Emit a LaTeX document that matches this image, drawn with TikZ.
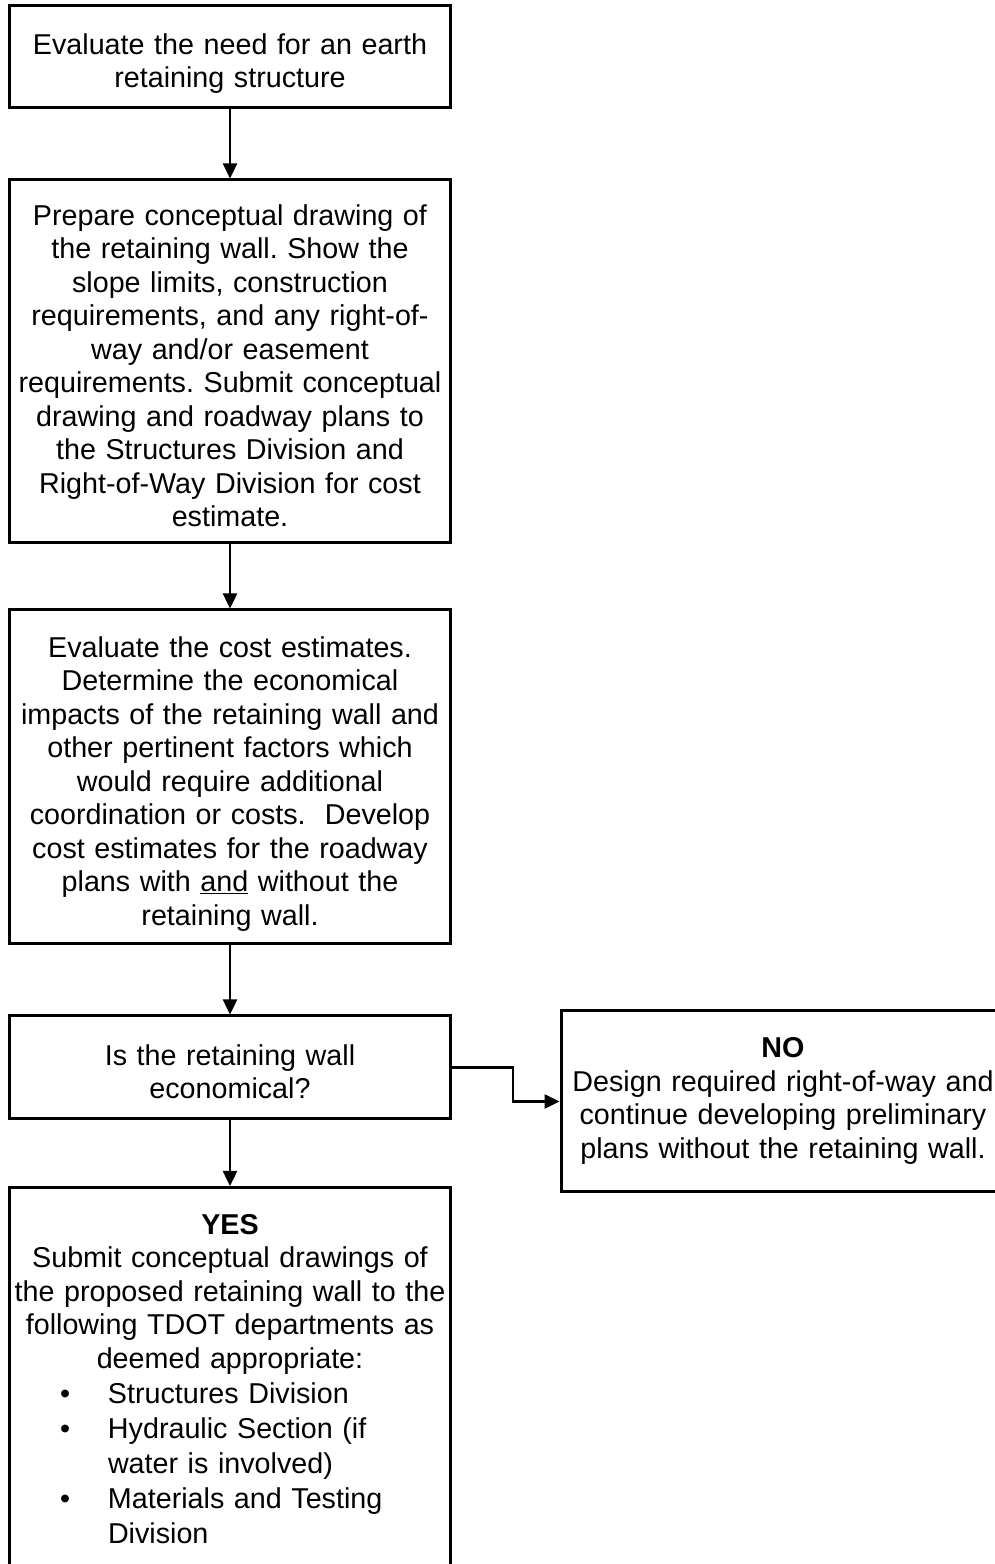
\documentclass[tikz,border=0pt]{standalone}
\usepackage{fontspec}
\setmainfont{Liberation Sans}
\usetikzlibrary{arrows.meta}
\newcommand{\bulitem}[1]{\makebox[444bp][l]{\hspace{52bp}\makebox[48bp][l]{\textbullet}#1}}
\newcommand{\bulcont}[1]{\makebox[444bp][l]{\hspace{100bp}#1}}
\newcommand{\deeprule}[1]{\rule[-#1]{0pt}{0pt}}
\begin{document}
\begin{tikzpicture}[>={Triangle[length=15bp,width=14bp]},line join=miter,
  flowbox/.style={draw,line width=3bp,minimum width=441bp,inner xsep=-1.5bp,inner ysep=0bp,
    text width=444bp,align=center,font=\fontsize{28.7bp}{33.5bp}\selectfont\frenchspacing,
    execute at begin node={\rule{0pt}{#1}},execute at end node={\deeprule{7bp}}},
  flowbox/.default=36bp,
  link/.style={black,line width=2.5bp,->}]
\path[use as bounding box,fill=white] (0bp,0bp) rectangle (995bp,1564bp);
%%
\node (node_0) at (230bp,1507.5bp) [flowbox,minimum height=102bp] {Evaluate the need for an earth\\retaining structure};
  \node (node_1) at (230bp,1202.5bp) [flowbox,minimum height=363bp] {Prepare conceptual drawing of\\the retaining wall. Show the\\slope limits, construction\\requirements, and any right-of-\\way and/or easement\\requirements. Submit conceptual\\drawing and roadway plans to\\the Structures Division and\\Right-of-Way Division for cost\\estimate.};
  \node (node_2) at (230bp,787bp) [flowbox,minimum height=334bp] {Evaluate the cost estimates.\\Determine the economical\\impacts of the retaining wall and\\other pertinent factors which\\would require additional\\coordination or costs.\ \ Develop\\cost estimates for the roadway\\plans with \underline{and} without the\\retaining wall.};
  \node (node_3) at (230bp,496.5bp) [flowbox,minimum height=103bp] {Is the retaining wall\\economical?};
  \node (node_4) at (783bp,462.5bp) [flowbox=20bp,minimum width=444bp,minimum height=181bp] {\textbf{NO}\\Design required right-of-way and\\continue developing preliminary\\plans without the retaining wall.};
  \node (node_5) at (230bp,378bp) [flowbox,anchor=north,inner ysep=11bp,execute at end node={\deeprule{40bp}}] {\textbf{YES}\\Submit conceptual drawings of\\the proposed retaining wall to the\\following TDOT departments as\\deemed appropriate:\\[2bp]\bulitem{Structures Division}\\[1.5bp]\bulitem{Hydraulic Section (if}\\[1.5bp]\bulcont{water is involved)}\\[1.5bp]\bulitem{Materials and Testing}\\[1.5bp]\bulcont{Division}};
  \draw [link] (node_0) -- (node_1);
  \draw [link] (node_1) -- (node_2);
  \draw [link] (node_2) -- (node_3);
  \draw [link] (node_3) -- (node_5);
  \draw [link] (node_3.east) -- ++(61bp,0bp) |- (node_4);
%
\end{tikzpicture}
\end{document}
